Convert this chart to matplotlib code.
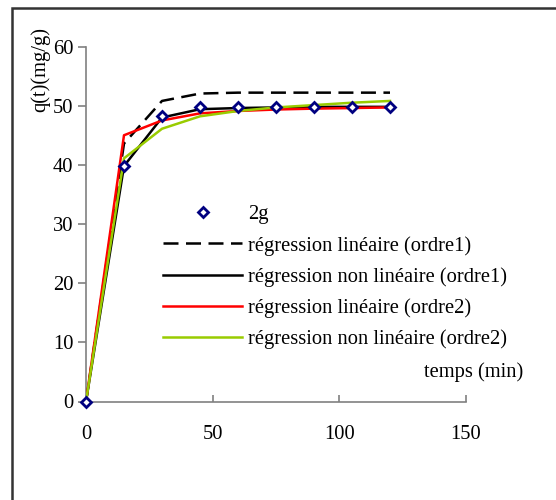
import matplotlib
matplotlib.use("Agg")
import matplotlib.pyplot as plt
from matplotlib.patches import Rectangle

plt.rcParams['font.family'] = ['Liberation Serif', 'DejaVu Serif']

t = [0, 15, 30, 45, 60, 75, 90, 105, 120]
q_2g = [0, 39.8, 48.2, 49.7, 49.8, 49.8, 49.8, 49.8, 49.8]
lin_o1 = [0, 43.6, 50.8, 52.05, 52.2, 52.2, 52.2, 52.2, 52.2]
nonlin_o1 = [0, 39.8, 48.0, 49.4, 49.6, 49.7, 49.8, 49.8, 49.8]
lin_o2 = [0, 45.0, 47.5, 48.7, 49.1, 49.35, 49.5, 49.6, 49.7]
nonlin_o2 = [0, 41.1, 46.1, 48.2, 49.1, 49.7, 50.1, 50.5, 50.8]

labels = ["2g", "régression linéaire (ordre1)", "régression non linéaire (ordre1)",
          "régression linéaire (ordre2)", "régression non linéaire (ordre2)"]
xticks = [0, 50, 100, 150]
yticks = [0, 10, 20, 30, 40, 50, 60]

W, H = 556, 500
fig = plt.figure(figsize=(W / 100, H / 100), dpi=100)
ax = fig.add_axes([86 / W, 1 - 401.5 / H, 380 / W, 355 / H])

fs = 14.8
lw = 1.8
h_lin1, = ax.plot(t, lin_o1, color='black', lw=lw, dashes=(6, 3), zorder=2, label=labels[1])
h_non1, = ax.plot(t, nonlin_o1, color='black', lw=lw, zorder=3, label=labels[2])
h_lin2, = ax.plot(t, lin_o2, color='#FF0000', lw=lw, zorder=4, label=labels[3])
h_non2, = ax.plot(t, nonlin_o2, color='#99CC00', lw=lw, zorder=5, label=labels[4])
h_pts, = ax.plot(t, q_2g, linestyle='none', marker='D', markersize=5, mfc='white',
                 mec='#000080', mew=2, zorder=6, label=labels[0], clip_on=False)

ax.set_xlim(0, 150)
ax.set_ylim(0, 60)
ax.set_xticks(xticks)
ax.set_yticks(yticks)
for s in ['top', 'right']:
    ax.spines[s].set_visible(False)
for s in ['left', 'bottom']:
    ax.spines[s].set_color('#808080')
    ax.spines[s].set_linewidth(1.2)
ax.tick_params(axis='y', direction='out', length=6, width=1.2, color='#808080',
               labelsize=fs, pad=3)
ax.tick_params(axis='x', direction='in', length=5, width=1.2, color='#808080',
               labelsize=fs, pad=17)

leg = ax.legend(handles=[h_pts, h_lin1, h_non1, h_lin2, h_non2], loc='upper left',
                bbox_to_anchor=(163 / W, 1 - 205 / H), bbox_transform=fig.transFigure,
                frameon=False, fontsize=fs, handlelength=3.85, handletextpad=0.3,
                labelspacing=0.56, borderaxespad=0, borderpad=0, numpoints=1)

fig.text(523 / W, 1 - 372 / H, "temps (min)", ha='right', va='center', fontsize=fs)
fig.text(40 / W, 1 - 70 / H, "q(t)(mg/g)", rotation=90, ha='center', va='center', fontsize=fs)

fig.patches.append(Rectangle((12 / W, -0.1), 1.2, 1 - 8 / H + 0.1, transform=fig.transFigure,
                             fill=False, edgecolor='#333333', lw=1.8, figure=fig))

fig.savefig("out.png", dpi=100)
